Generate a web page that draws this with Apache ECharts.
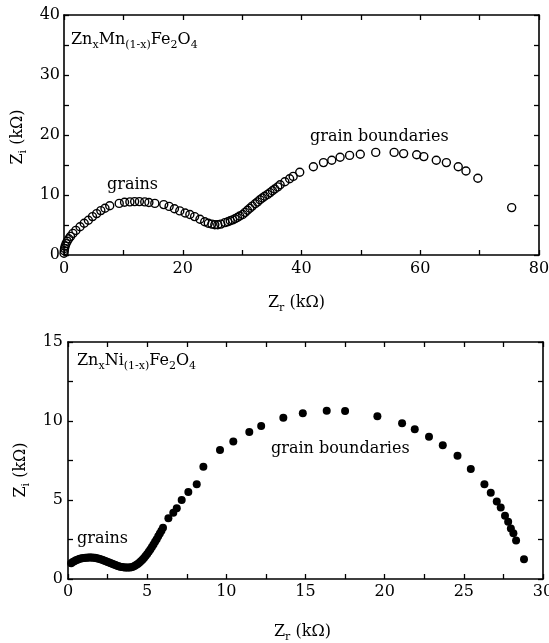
<!DOCTYPE html>
<html>
<head>
<meta charset="utf-8">
<script src="https://cdn.jsdelivr.net/npm/echarts@6/dist/echarts.min.js"></script>
<style>
  html, body { margin: 0; padding: 0; background: #fff; }
  #chart { width: 549px; height: 643px; }
</style>
</head>
<body>
<div id="chart"></div>
<script>
  // ZnxMn(1-x)Fe2O4 impedance (open circles)
  const mnZr = [0.0, 0.05, 0.1, 0.2, 0.35, 0.55, 0.8, 1.1, 1.5, 2.0, 2.7, 3.4, 4.1, 4.8, 5.5, 6.2, 6.9, 7.7,
    9.3, 10.2, 11.1, 11.9, 12.7, 13.6, 14.3, 15.3, 16.8, 17.7, 18.6, 19.5, 20.4, 21.2, 22.0, 22.9, 23.7,
    24.3, 24.9, 25.4, 25.9, 26.4, 27.1, 27.6, 28.0, 28.4, 28.8, 29.2, 29.6, 30.1, 30.5, 30.9, 31.3, 31.7,
    32.2, 32.6, 33.0, 33.4, 33.8, 34.3, 34.7, 35.1, 35.5, 36.0, 36.4, 37.2, 38.0, 38.6, 39.7, 42.0, 43.7,
    45.1, 46.5, 48.1, 49.9, 52.5, 55.6, 57.2, 59.4, 60.6, 62.7, 64.4, 66.4, 67.7, 69.7, 75.4];
  const mnZi = [0.3, 0.7, 1.1, 1.5, 1.9, 2.3, 2.7, 3.1, 3.6, 4.1, 4.7, 5.3, 5.8, 6.4, 6.9, 7.4, 7.8, 8.2,
    8.6, 8.8, 8.85, 8.9, 8.9, 8.85, 8.75, 8.6, 8.4, 8.1, 7.7, 7.35, 7.0, 6.75, 6.4, 5.95, 5.55,
    5.3, 5.15, 5.05, 5.05, 5.15, 5.4, 5.55, 5.7, 5.85, 6.05, 6.25, 6.5, 6.75, 7.1, 7.45, 7.8, 8.15,
    8.55, 8.85, 9.2, 9.5, 9.8, 10.1, 10.4, 10.7, 11.0, 11.35, 11.7, 12.2, 12.7, 13.1, 13.8, 14.7, 15.4,
    15.8, 16.3, 16.6, 16.8, 17.1, 17.1, 16.9, 16.7, 16.4, 15.8, 15.4, 14.7, 14.0, 12.8, 7.9];

  // ZnxNi(1-x)Fe2O4 impedance (filled circles)
  const niZr = [0.2, 0.3, 0.4, 0.5, 0.6, 0.7, 0.8, 0.9, 1.0, 1.1, 1.2, 1.3, 1.4, 1.5, 1.6, 1.7, 1.8, 1.9,
    2.0, 2.1, 2.2, 2.3, 2.4, 2.5, 2.6, 2.7, 2.8, 2.9, 3.0, 3.1, 3.2, 3.3, 3.4, 3.5, 3.6, 3.7, 3.8, 3.9,
    4.0, 4.1, 4.2, 4.3, 4.4, 4.5, 4.6, 4.7, 4.8, 4.9, 5.0, 5.1, 5.2, 5.3, 5.4, 5.5, 5.6, 5.7, 5.8, 5.9, 6.0,
    6.34, 6.65, 6.87, 7.18, 7.6, 8.13, 8.55, 9.6, 10.44, 11.45, 12.2, 13.6, 14.83, 16.34, 17.5, 19.54,
    21.1, 21.9, 22.8, 23.67, 24.6, 25.44, 26.3, 26.7, 27.08, 27.33, 27.6, 27.8, 27.97, 28.13, 28.3, 28.8];
  const niZi = [1.0, 1.07, 1.13, 1.18, 1.22, 1.26, 1.29, 1.31, 1.33, 1.34, 1.35, 1.36, 1.36, 1.36, 1.35, 1.34, 1.32, 1.30,
    1.27, 1.24, 1.20, 1.16, 1.12, 1.08, 1.04, 1.0, 0.96, 0.92, 0.88, 0.84, 0.81, 0.78, 0.76, 0.74, 0.73, 0.72, 0.72, 0.73,
    0.75, 0.78, 0.82, 0.88, 0.95, 1.03, 1.12, 1.22, 1.33, 1.45, 1.58, 1.72, 1.87, 2.02, 2.18, 2.35, 2.52, 2.70, 2.88, 3.06, 3.25,
    3.84, 4.2, 4.47, 5.0, 5.5, 6.0, 7.1, 8.16, 8.7, 9.3, 9.68, 10.2, 10.49, 10.65, 10.63, 10.3,
    9.85, 9.47, 9.0, 8.46, 7.8, 6.96, 5.99, 5.46, 4.9, 4.53, 4.0, 3.63, 3.2, 2.89, 2.43, 1.25];

  // tick labels
  const mnXTicks = [0, 20, 40, 60, 80];
  const mnYTicks = [0, 10, 20, 30, 40];
  const niXTicks = [0, 5, 10, 15, 20, 25, 30];
  const niYTicks = [0, 5, 10, 15];

  const FONT = 'DejaVu Serif';
  const rich = {
    n: { fontSize: 16, fontFamily: FONT, color: '#000' },
    s: { fontSize: 11, fontFamily: FONT, color: '#000', padding: [10, 0, 0, 0] },
  };

  const zip = (xs, ys) => xs.map((x, i) => [x, ys[i]]);

  const makeAxis = (ticks, gridIndex, position, showLabel, margin) => ({
    type: 'value',
    gridIndex,
    position,
    min: ticks[0],
    max: ticks[ticks.length - 1],
    interval: ticks[1] - ticks[0],
    axisLine: { show: true, onZero: false, lineStyle: { color: '#000', width: 1.6 } },
    axisTick: { show: true, inside: true, length: 5, lineStyle: { color: '#000', width: 1.3 } },
    minorTick: { show: true, splitNumber: 2, length: 5, lineStyle: { color: '#000', width: 1.3 } },
    axisLabel: {
      show: showLabel,
      margin,
      color: '#000',
      fontFamily: FONT,
      fontSize: 16,
      showMinLabel: true,
      showMaxLabel: true,
    },
    splitLine: { show: false },
  });

  const textEl = (left, top, text, rotate) => ({
    type: 'text',
    x: left,
    y: top,
    rotation: rotate ? Math.PI / 2 : 0,
    style: { text, rich, align: rotate ? 'center' : 'left', verticalAlign: 'middle', fill: '#000' },
  });

  const labelEl = (left, top, text) => ({
    type: 'text',
    x: left,
    y: top,
    style: { text, font: '16px "' + FONT + '"', fill: '#000', verticalAlign: 'middle' },
  });

  const getOption = () => ({
    animation: false,
    backgroundColor: '#fff',
    grid: [
      { left: 64, top: 15, width: 475, height: 240, outerBoundsMode: 'none' },
      { left: 68, top: 342, width: 475, height: 237, outerBoundsMode: 'none' },
    ],
    xAxis: [
      makeAxis(mnXTicks, 0, 'bottom', true, 6),
      makeAxis(mnXTicks, 0, 'top', false, 6),
      makeAxis(niXTicks, 1, 'bottom', true, 5),
      makeAxis(niXTicks, 1, 'top', false, 5),
    ],
    yAxis: [
      makeAxis(mnYTicks, 0, 'left', true, 4),
      makeAxis(mnYTicks, 0, 'right', false, 4),
      makeAxis(niYTicks, 1, 'left', true, 5),
      makeAxis(niYTicks, 1, 'right', false, 5),
    ],
    series: [
      {
        type: 'scatter',
        xAxisIndex: 0,
        yAxisIndex: 0,
        data: zip(mnZr, mnZi),
        symbol: 'circle',
        symbolSize: 8,
        itemStyle: { color: 'rgba(0,0,0,0)', borderColor: '#000', borderWidth: 1.4, opacity: 1 },
      },
      {
        type: 'scatter',
        xAxisIndex: 2,
        yAxisIndex: 2,
        data: zip(niZr, niZi),
        symbol: 'circle',
        symbolSize: 8,
        itemStyle: { color: '#000', opacity: 1 },
      },
    ],
    graphic: [
      textEl(71, 40, '{n|Zn}{s|x}{n|Mn}{s|(1-x)}{n|Fe}{s|2}{n|O}{s|4}'),
      labelEl(107, 185, 'grains'),
      labelEl(310, 137, 'grain boundaries'),
      textEl(18, 137, '{n|Z}{s|i}{n| (kΩ)}', true),
      textEl(268, 303, '{n|Z}{s|r}{n| (kΩ)}'),
      textEl(77, 361, '{n|Zn}{s|x}{n|Ni}{s|(1-x)}{n|Fe}{s|2}{n|O}{s|4}'),
      labelEl(77, 539, 'grains'),
      labelEl(271, 449, 'grain boundaries'),
      textEl(21, 470, '{n|Z}{s|i}{n| (kΩ)}', true),
      textEl(274, 632, '{n|Z}{s|r}{n| (kΩ)}'),
    ],
  });

  const myChart = echarts.init(document.getElementById('chart'));
  myChart.setOption(getOption());
</script>
</body>
</html>
